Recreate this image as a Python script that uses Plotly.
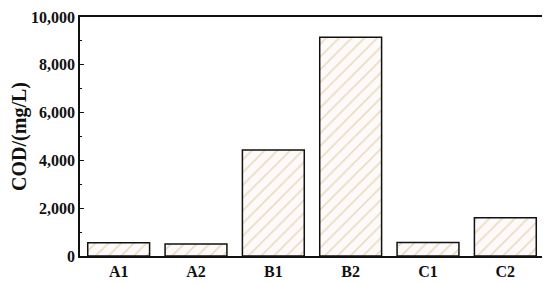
import plotly.graph_objects as go

categories = ["A1", "A2", "B1", "B2", "C1", "C2"]
cod_values = [550, 500, 4430, 9150, 570, 1600]

fig = go.Figure()
fig.add_trace(
    go.Bar(
        x=categories,
        y=cod_values,
        marker=dict(
            color="#fffafa",
            line=dict(color="#111111", width=1.5),
            pattern=dict(shape="/", fgcolor="#d6c088", bgcolor="#fffafa", size=9, solidity=0.2),
        ),
        showlegend=False,
    )
)

family = "Liberation Serif, Times New Roman, serif"

# page body has an 8px default margin, so the figure is sized/offset to suit
fig.update_layout(
    width=542,
    height=275,
    margin=dict(l=72, r=6, t=9, b=27),
    paper_bgcolor="white",
    plot_bgcolor="white",
    bargap=0.2,
    font=dict(family=family, size=16, color="#111111"),
    xaxis=dict(
        automargin=False,
        showline=True, linecolor="#111111", linewidth=1.5, mirror=True,
        ticks="", tickfont=dict(size=16, family=family, weight="bold"),
        showgrid=False,
    ),
    yaxis=dict(
        automargin=False,
        range=[0, 10000], dtick=2000, tickformat=",d",
        showline=True, linecolor="#111111", linewidth=1.5, mirror=True,
        ticks="inside", ticklen=4, tickwidth=1.2, tickcolor="#111111",
        minor=dict(dtick=1000, ticks="inside", ticklen=2, tickwidth=1, tickcolor="#111111"),
        tickfont=dict(size=16, family=family, weight="bold"),
        showgrid=False, zeroline=False,
        title=dict(text="COD/(mg/L)", font=dict(size=20, family=family, weight="bold"), standoff=7),
    ),
)

fig.write_html("out.html")
